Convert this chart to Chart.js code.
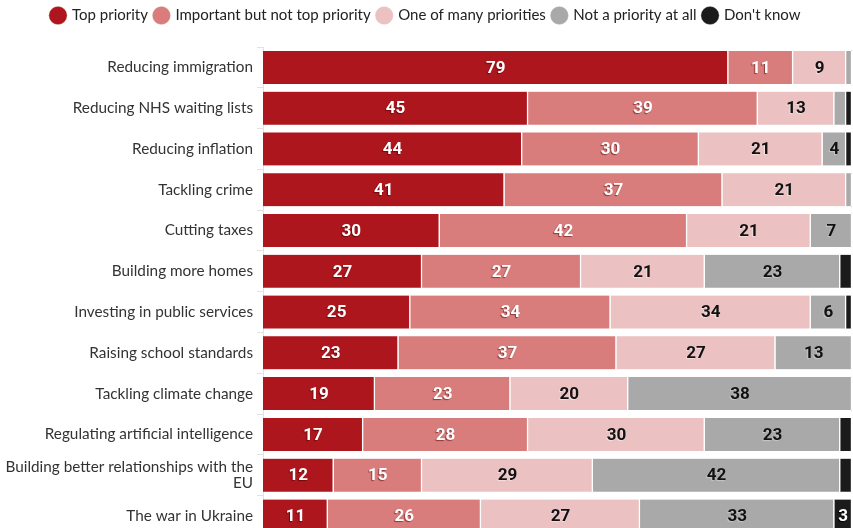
<!DOCTYPE html>
<html>
<head>
<meta charset="utf-8">
<script src="https://cdn.jsdelivr.net/npm/chart.js@4/dist/chart.umd.min.js"></script>
<style>
  html, body { margin: 0; padding: 0; background: #fff; overflow: hidden; }
  #wrap { width: 853px; height: 528px; overflow: hidden; }
</style>
</head>
<body>
<div id="wrap"><canvas id="priorities-chart" width="853" height="548"></canvas></div>
<script>
// survey answers, percent per issue
const issues = [
  'Reducing immigration',
  'Reducing NHS waiting lists',
  'Reducing inflation',
  'Tackling crime',
  'Cutting taxes',
  'Building more homes',
  'Investing in public services',
  'Raising school standards',
  'Tackling climate change',
  'Regulating artificial intelligence',
  ['Building better relationships with the', 'EU'],
  'The war in Ukraine'
];
const topPriority     = [79, 45, 44, 41, 30, 27, 25, 23, 19, 17, 12, 11];
const importantNotTop = [11, 39, 30, 37, 42, 27, 34, 37, 23, 28, 15, 26];
const oneOfMany       = [ 9, 13, 21, 21, 21, 21, 34, 27, 20, 30, 29, 27];
const notAPriority    = [ 1,  2,  4,  1,  7, 23,  6, 13, 38, 23, 42, 33];
const dontKnow        = [ 0,  1,  1,  0,  0,  2,  1,  1,  0,  2,  2,  3];

const seriesNames = ['Top priority', 'Important but not top priority', 'One of many priorities', 'Not a priority at all', "Don't know"];
const seriesColors = ['#ad161d', '#d97d7c', '#ebc1c2', '#a9a9a9', '#1b1b1b'];
const labelColors = ['#fff', '#fff', '#111', '#111', '#fff'];
const shadowColors = ['#6e0a0e', '#8a3a3a', 'rgba(255,255,255,0.5)', 'rgba(255,255,255,0.35)', '#000'];

const allSeries = [topPriority, importantNotTop, oneOfMany, notAPriority, dontKnow];

const segmentLabels = {
  id: 'segmentLabels',
  afterDatasetsDraw(chart) {
    const { ctx } = chart;
    ctx.save();
    ctx.font = 'bold 17px Roboto, sans-serif';
    ctx.textAlign = 'center';
    ctx.textBaseline = 'middle';
    chart.data.datasets.forEach((ds, i) => {
      const meta = chart.getDatasetMeta(i);
      meta.data.forEach((bar, j) => {
        const v = ds.data[j];
        if (v < 3) return;
        const x = (bar.x + bar.base) / 2;
        ctx.shadowColor = shadowColors[i];
        ctx.shadowOffsetX = -1;
        ctx.shadowOffsetY = 1;
        ctx.shadowBlur = 1;
        ctx.fillStyle = labelColors[i];
        ctx.fillText(String(v), x, bar.y + 1);
      });
    });
    ctx.restore();
  }
};

const fixLegendHeight = {
  id: 'fixLegendHeight',
  beforeInit(chart) {
    const fit = chart.legend.fit;
    chart.legend.fit = function () {
      fit.call(this);
      this.height = 46;
    };
  }
};

new Chart(document.getElementById('priorities-chart'), {
  type: 'bar',
  data: {
    labels: issues,
    datasets: allSeries.map((data, i) => ({
      label: seriesNames[i],
      data,
      backgroundColor: seriesColors[i],
      borderColor: '#fff',
      borderWidth: { right: 1.5, left: 0, top: 0, bottom: 0 },
      borderSkipped: false,
      barThickness: 33
    }))
  },
  options: {
    indexAxis: 'y',
    responsive: false,
    animation: false,
    layout: { padding: { top: 1, right: 1, bottom: 1, left: 0 } },
    scales: {
      x: { stacked: true, min: 0, max: 100, display: false },
      y: {
        stacked: true,
        afterFit(scale) { scale.width = 263; },
        border: { display: true, color: '#e2e2e2' },
        grid: { drawOnChartArea: false, drawTicks: true, tickLength: 6, color: '#e2e2e2' },
        ticks: {
          color: '#333',
          padding: 4,
          font: { family: 'Lato, sans-serif', size: 15.3, lineHeight: 1.0 }
        }
      }
    },
    plugins: {
      legend: {
        position: 'top',
        labels: {
          usePointStyle: true,
          pointStyle: 'circle',
          boxWidth: 13,
          boxHeight: 13,
          padding: 7,
          color: '#222',
          font: { family: 'Lato, sans-serif', size: 15 }
        }
      },
      tooltip: { enabled: false }
    }
  },
  plugins: [segmentLabels, fixLegendHeight]
});
</script>
</body>
</html>
